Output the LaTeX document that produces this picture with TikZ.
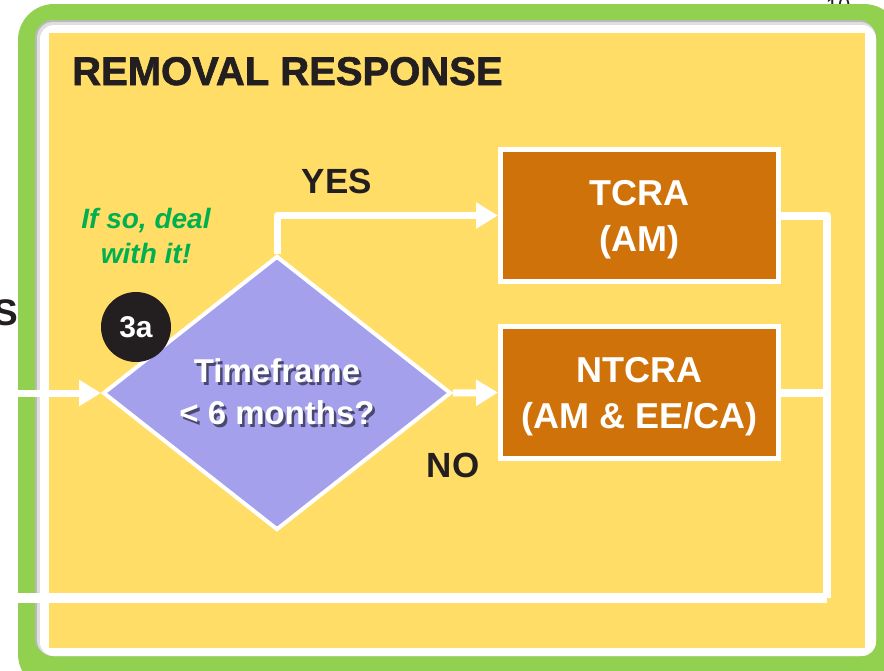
\documentclass[tikz,border=0pt]{standalone}
\usepackage{fontspec}
\setmainfont{Liberation Sans}
\usepackage{tikz}
\usetikzlibrary{shapes.geometric}
\usetikzlibrary{arrows.meta}

\definecolor{framegreen}{HTML}{92D050}
\definecolor{panelyellow}{HTML}{FFDD67}
\definecolor{boxorange}{HTML}{D0720A}
\definecolor{decisionblue}{HTML}{A4A0EC}
\definecolor{notegreen}{HTML}{00B050}
\definecolor{inkblack}{HTML}{231F20}
\definecolor{textshadow}{HTML}{4A4870}

\newcommand{\shadowtext}[1]{\makebox[0pt][l]{\hspace{2.5pt}\raisebox{-2.5pt}{\color{textshadow}#1}}#1}

\begin{document}
\begin{tikzpicture}[x=1pt, y=-1pt,
  actionbox/.style = {rectangle, draw=white, line width=5pt, fill=boxorange, text=white,
    minimum width=278pt, minimum height=132pt, align=center,
    font=\bfseries\fontsize{36}{46}\selectfont},
  flow/.style = {draw=white, line width=7pt, line join=round, -{Triangle[length=22pt,width=25pt]}},
  link/.style = {draw=white, line width=8pt, line join=round},
  answer/.style = {text=inkblack, inner sep=0pt, font=\bfseries\fontsize{35}{35}\selectfont}]

  \clip (0,0) rectangle (884,670);

  \node[anchor=north, inner sep=0pt, text=inkblack, font=\fontsize{22}{22}\selectfont] (pagenum) at (838,-2) {10};

  % frame and panel
  \fill[framegreen, rounded corners=36pt] (18,4) rectangle (900,690);
  \fill[gray!55, rounded corners=18pt] (35,20) rectangle (876,656);
  \fill[gray!25, rounded corners=16pt] (37,22) rectangle (876,656);
  \fill[white, rounded corners=14pt] (40,25) rectangle (876,656);
  \fill[panelyellow] (49,33) rectangle (865,648);

  \node[anchor=base west, inner sep=0pt, text=inkblack, font=\bfseries\addfontfeature{FakeBold=1.6}\fontsize{40}{40}\selectfont] (title) at (72,85) {REMOVAL RESPONSE};
  \node[anchor=base east, inner sep=0pt, text=inkblack, font=\bfseries\fontsize{37}{37}\selectfont] (cutoff) at (18,325) {S};

  \node[align=center, inner sep=0pt, text=notegreen, font=\bfseries\itshape\fontsize{28}{35}\selectfont] (note) at (146,236) {If so, deal\\with it!};

  \node[diamond, draw=white, line width=4pt, fill=decisionblue, minimum width=348pt, minimum height=274pt,
    inner sep=0pt, text=white, align=center, font=\bfseries\fontsize{33}{42}\selectfont] (timeframe) at (277,393)
    {\shadowtext{Timeframe}\\\shadowtext{< 6 months?}};
  \node[circle, fill=inkblack, minimum size=70pt, inner sep=0pt, text=white, font=\bfseries\fontsize{30}{30}\selectfont] (step3a) at (136,327) {3a};

  \node[actionbox] (tcra) at (639.5,215.5) {\rule{0pt}{34pt}TCRA\\(AM)};
  \node[actionbox] (ntcra) at (639.5,392.5) {\rule{0pt}{34pt}NTCRA\\(AM \& EE/CA)};

  \node[answer, anchor=base] (yes) at (337,193) {YES};
  \node[answer, anchor=base] (no) at (453,477) {NO};

  \coordinate (entry) at (0,393);
  \coordinate (railtop) at (827,215.5);
  \coordinate (railbottom) at (827,598);
  \coordinate (exit) at (0,598);

  \draw[flow] (entry) -- (timeframe.west);
  \draw[flow] (timeframe.north) |- (tcra.west);
  \draw[flow] (timeframe.east) -- (ntcra.west);
  \draw[link] (tcra.east) -- (railtop) -- (railbottom);
  \draw[link] (ntcra.east) -- (ntcra.east -| railtop);
  \draw[link, line width=10pt] (railbottom) -- (exit);

\end{tikzpicture}
\end{document}
